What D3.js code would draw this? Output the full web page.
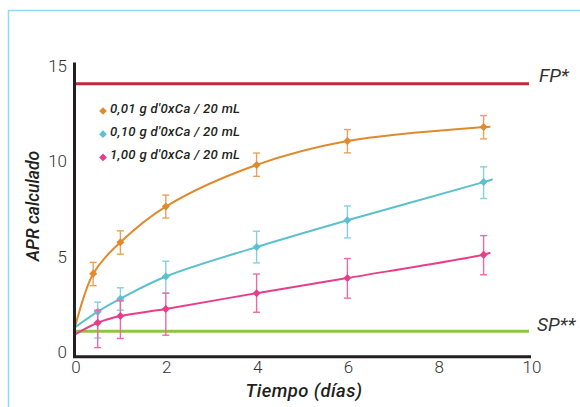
<!DOCTYPE html>
<html>
<head>
<meta charset="utf-8">
<script src="https://cdn.jsdelivr.net/npm/d3@7"></script>
<style>
  body { margin: 0; background: #fff; }
  text { font-family: Roboto, "Liberation Sans", sans-serif; }
</style>
</head>
<body>
<div id="chart"></div>
<script>
// values
var orangeX = [0.4, 1, 2, 4, 6, 9];
var orangeY = [4.1, 5.75, 7.62, 9.8, 11.05, 11.78];
var orangeErrUp = [0.6, 0.6, 0.6, 0.62, 0.6, 0.6];
var orangeErrDown = [0.62, 0.62, 0.6, 0.6, 0.62, 0.62];
var orangeFit = [[0, 1.3], [9.15, 11.8]];

var cyanX = [0.5, 1, 2, 4, 6, 9];
var cyanY = [2.12, 2.8, 3.96, 5.5, 6.9, 8.9];
var cyanErrUp = [0.5, 0.57, 0.8, 0.83, 0.75, 0.8];
var cyanErrDown = [1.38, 0.6, 0.87, 0.83, 0.92, 0.86];
var cyanFit = [[0, 1.3], [9.2, 9.05]];

var pinkX = [0.5, 1, 2, 4, 6, 9];
var pinkY = [1.54, 1.89, 2.26, 3.09, 3.88, 5.1];
var pinkErrUp = [0.66, 0.8, 0.83, 1.0, 1.02, 1.0];
var pinkErrDown = [1.3, 1.17, 1.37, 1.0, 1.05, 1.05];
var pinkFit = [[0, 0.93], [9.15, 5.2]];

var fpValue = 14.05;
var spValue = 1.1;

var legendLabels = ["0,01 g d'0xCa / 20 mL", "0,10 g d'0xCa / 20 mL", "1,00 g d'0xCa / 20 mL"];
var xTicks = [0, 2, 4, 6, 8, 10];
var yTicks = [0, 5, 10, 15];

var width = 580, height = 407;

var svg = d3.select("#chart").append("svg")
    .attr("width", width)
    .attr("height", height);

// light blue frame
svg.append("rect")
    .attr("x", 8.5).attr("y", 10.5)
    .attr("width", 620).attr("height", 500)
    .attr("fill", "none")
    .attr("stroke", "#8fdaf2")
    .attr("stroke-width", 1.5);

var x = d3.scaleLinear().domain([0, 10]).range([75, 529]);
var y = d3.scaleLinear().domain([0, 15]).range([352.2, 65.5]);

// reference lines
svg.append("line")
    .attr("x1", x(0)).attr("x2", x(10))
    .attr("y1", y(fpValue)).attr("y2", y(fpValue))
    .attr("stroke", "#c5283e").attr("stroke-width", 3);
svg.append("line")
    .attr("x1", x(0)).attr("x2", x(10))
    .attr("y1", y(spValue)).attr("y2", y(spValue))
    .attr("stroke", "#8dc63f").attr("stroke-width", 3);

svg.append("text").attr("x", 539).attr("y", 82)
    .attr("font-size", 19).attr("font-style", "italic").attr("font-weight", 400)
    .attr("fill", "#333").text("FP*");
svg.append("text").attr("x", 537).attr("y", 331)
    .attr("font-size", 19).attr("font-style", "italic").attr("font-weight", 400)
    .attr("fill", "#333").text("SP**");

var series = [
    {xs: orangeX, ys: orangeY, up: orangeErrUp, down: orangeErrDown, fit: orangeFit, color: "#e08a2e", bar: "#e9a25a"},
    {xs: cyanX, ys: cyanY, up: cyanErrUp, down: cyanErrDown, fit: cyanFit, color: "#5cc0cf", bar: "#86d0db"},
    {xs: pinkX, ys: pinkY, up: pinkErrUp, down: pinkErrDown, fit: pinkFit, color: "#e83e8a", bar: "#ec6aa4"}
];

var line = d3.line()
    .x(function(d) { return x(d[0]); })
    .y(function(d) { return y(d[1]); })
    .curve(d3.curveCatmullRom.alpha(0.5));

var diamond = d3.symbol().type(d3.symbolSquare).size(32);

series.forEach(function(s) {
    var pts = s.xs.map(function(v, i) { return [v, s.ys[i]]; });
    var all = [s.fit[0]].concat(pts).concat([s.fit[1]]);

    // error bars
    var g = svg.append("g");
    pts.forEach(function(p, i) {
        var cx = x(p[0]);
        var top = y(p[1] + s.up[i]), bot = y(p[1] - s.down[i]);
        g.append("line").attr("x1", cx).attr("x2", cx).attr("y1", top).attr("y2", bot)
            .attr("stroke", s.bar).attr("stroke-width", 1.4);
        g.append("line").attr("x1", cx - 3.5).attr("x2", cx + 3.5).attr("y1", top).attr("y2", top)
            .attr("stroke", s.bar).attr("stroke-width", 1.4);
        g.append("line").attr("x1", cx - 3.5).attr("x2", cx + 3.5).attr("y1", bot).attr("y2", bot)
            .attr("stroke", s.bar).attr("stroke-width", 1.4);
    });

    svg.append("path")
        .datum(all)
        .attr("d", line)
        .attr("fill", "none")
        .attr("stroke", s.color)
        .attr("stroke-width", 2);

    svg.selectAll(null)
        .data(pts)
        .enter()
        .append("path")
        .attr("d", diamond)
        .attr("transform", function(d) { return "translate(" + x(d[0]) + "," + y(d[1]) + ") rotate(45)"; })
        .attr("fill", s.color);
});

// axes
svg.append("line").attr("x1", 74.5).attr("x2", 74.5).attr("y1", 62.5).attr("y2", 358)
    .attr("stroke", "#231f20").attr("stroke-width", 3);
svg.append("line").attr("x1", 73).attr("x2", 531).attr("y1", 356.8).attr("y2", 356.8)
    .attr("stroke", "#231f20").attr("stroke-width", 3);

svg.selectAll(".ytick")
    .data(yTicks)
    .enter()
    .append("text")
    .attr("class", "ytick")
    .attr("x", 67)
    .attr("y", function(d) { return y(d); })
    .attr("dy", "0.36em")
    .attr("text-anchor", "end")
    .attr("font-size", 17)
    .attr("font-weight", 300)
    .attr("fill", "#333")
    .text(function(d) { return d; });

svg.selectAll(".xtick")
    .data(xTicks)
    .enter()
    .append("text")
    .attr("class", "xtick")
    .attr("x", function(d) { return x(d) + (d == 10 ? 3 : 1); })
    .attr("y", 373)
    .attr("text-anchor", "middle")
    .attr("font-size", 17)
    .attr("font-weight", 300)
    .attr("fill", "#333")
    .text(function(d) { return d; });

// axis titles
svg.append("text")
    .attr("x", 304).attr("y", 397)
    .attr("text-anchor", "middle")
    .attr("font-size", 18.5).attr("font-style", "italic").attr("font-weight", 500)
    .attr("letter-spacing", 0.4)
    .attr("fill", "#231f20")
    .text("Tiempo (días)");
svg.append("text")
    .attr("transform", "translate(39,206) rotate(-90)")
    .attr("text-anchor", "middle")
    .attr("font-size", 17.5).attr("font-style", "italic").attr("font-weight", 500)
    .attr("fill", "#231f20")
    .text("APR calculado");

// legend
var legend = svg.selectAll(".legend")
    .data(legendLabels)
    .enter()
    .append("g")
    .attr("class", "legend")
    .attr("transform", function(d, i) { return "translate(103," + (111 + i * 23.2) + ")"; });
legend.append("path")
    .attr("d", d3.symbol().type(d3.symbolSquare).size(30))
    .attr("transform", "rotate(45)")
    .attr("fill", function(d, i) { return series[i].color; });
legend.append("text")
    .attr("x", 7)
    .attr("y", 1.5)
    .attr("font-size", 13.2).attr("font-style", "italic").attr("font-weight", 500)
    .attr("letter-spacing", 0.3)
    .attr("fill", "#231f20")
    .text(function(d) { return d; });
</script>
</body>
</html>
